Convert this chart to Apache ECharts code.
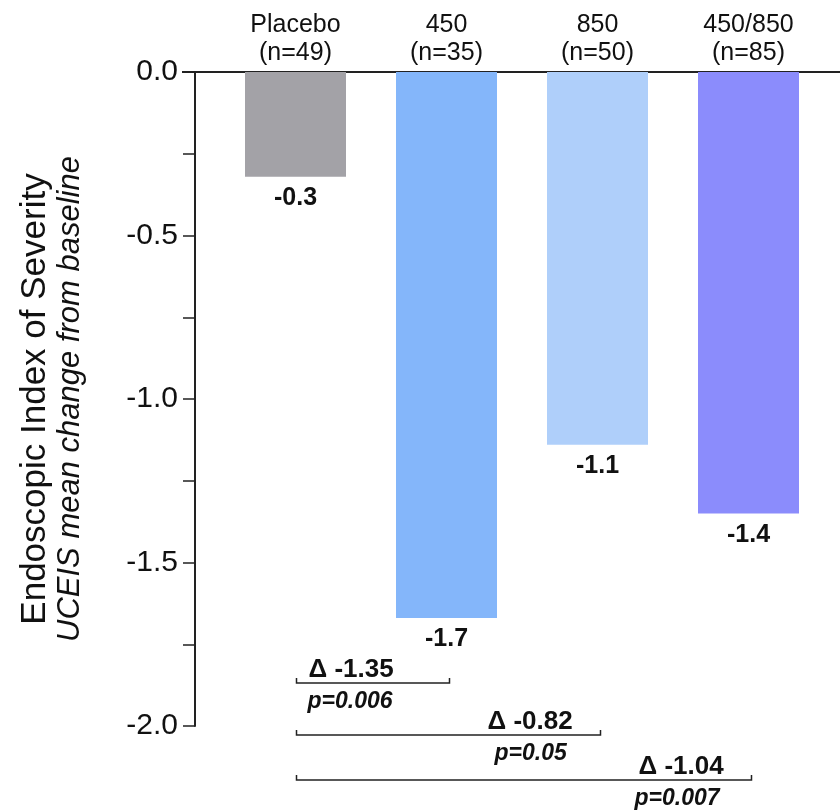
<!DOCTYPE html>
<html lang="en">
<head>
    <meta charset="UTF-8">
    <title>UCEIS mean change from baseline</title>
    <script src="https://cdn.jsdelivr.net/npm/echarts@6/dist/echarts.min.js"></script>
    <style>
        html, body { margin: 0; padding: 0; background: #fff; }
        #chart { width: 840px; height: 812px; }
    </style>
</head>
<body>
<div id="chart"></div>
<script>
    // groups and values
    const categories = ['Placebo', '450', '850', '450/850'];
    const sampleSizes = [49, 35, 50, 85];
    const meanChange = [-0.32, -1.67, -1.14, -1.35];

    // comparisons against placebo (index 0)
    const compareTo = [1, 2, 3];
    const deltaLabels = ['-1.35', '-0.82', '-1.04'];
    const pLabels = ['0.006', '0.05', '0.007'];

    const barColors = ['#a3a2a7', '#84b6fa', '#afcffa', '#8b8cfc'];
    const FONT = 'Liberation Sans, Arial, sans-serif';

    let chartDom = document.getElementById('chart');
    let myChart = echarts.init(chartDom, null, { renderer: 'canvas' });

    let option = {
        animation: false,
        grid: { left: 220, right: 16, top: 72, bottom: 86 },
        xAxis: {
            type: 'category',
            position: 'top',
            data: categories,
            axisLine: { show: false },
            axisTick: { show: false },
            axisLabel: {
                interval: 0,
                margin: 5,
                fontFamily: FONT,
                fontSize: 25,
                lineHeight: 28,
                color: '#111',
                formatter: function (value, idx) {
                    return value + '\n(n=' + sampleSizes[idx] + ')';
                }
            }
        },
        yAxis: {
            type: 'value',
            min: -2,
            max: 0,
            interval: 0.25,
            offset: 25,
            splitLine: { show: false },
            axisLine: { show: true, lineStyle: { color: '#222', width: 2 } },
            axisTick: { show: true, length: 12, lineStyle: { color: '#222', width: 1.5 } },
            axisLabel: {
                margin: 17,
                fontFamily: FONT,
                fontSize: 30,
                color: '#111',
                formatter: function (v) {
                    return (Math.abs(v % 0.5) < 1e-9) ? v.toFixed(1) : '';
                }
            },
            name: '{t|Endoscopic Index of Severity}\n{s|UCEIS mean change from baseline}',
            nameLocation: 'middle',
            nameGap: 108,
            nameTextStyle: {
                fontFamily: FONT,
                color: '#111',
                rich: {
                    t: { fontFamily: FONT, fontSize: 35, lineHeight: 36, color: '#111' },
                    s: { fontFamily: FONT, fontSize: 31, lineHeight: 34, fontStyle: 'italic', color: '#111' }
                }
            }
        },
        series: [{
            type: 'bar',
            barWidth: 101,
            data: meanChange.map(function (v, i) {
                return { value: v, itemStyle: { color: barColors[i] } };
            }),
            label: {
                show: true,
                position: 'bottom',
                distance: 9,
                fontFamily: FONT,
                fontSize: 25,
                fontWeight: 'bold',
                color: '#111',
                formatter: function (p) { return p.value.toFixed(1); }
            }
        }]
    };
    myChart.setOption(option);

    // zero line across the top and the comparison brackets
    let zeroY = myChart.convertToPixel({ yAxisIndex: 0 }, 0);
    let x0 = myChart.convertToPixel({ xAxisIndex: 0 }, 0) + 1;
    let bracketY = [683, 735, 780];
    let graphics = [{
        type: 'line',
        shape: { x1: 182, y1: zeroY, x2: 840, y2: zeroY },
        style: { stroke: '#222', lineWidth: 2 }
    }];

    compareTo.forEach(function (idx, i) {
        let x1 = myChart.convertToPixel({ xAxisIndex: 0 }, idx) + 3;
        let y = bracketY[i];
        graphics.push({
            type: 'polyline',
            shape: { points: [[x0, y - 5], [x0, y], [x1, y], [x1, y - 5]] },
            style: { stroke: '#222', lineWidth: 1.5, fill: null }
        });
        // first label sits at the left end, the others at the right end
        let dx = i === 0 ? x0 + 12 : x1 - 113;
        let px = i === 0 ? x0 + 11 : (i === 1 ? x1 - 106 : x1 - 117);
        graphics.push({
            type: 'text',
            x: dx, y: y - 13,
            style: {
                text: 'Δ ' + deltaLabels[i],
                font: 'bold 26px ' + FONT,
                fill: '#111',
                verticalAlign: 'middle'
            }
        });
        graphics.push({
            type: 'text',
            x: px, y: y + 19,
            style: {
                text: 'p=' + pLabels[i],
                font: 'italic bold 23px ' + FONT,
                fill: '#111',
                verticalAlign: 'middle'
            }
        });
    });

    myChart.setOption({ graphic: graphics });
</script>
</body>
</html>
